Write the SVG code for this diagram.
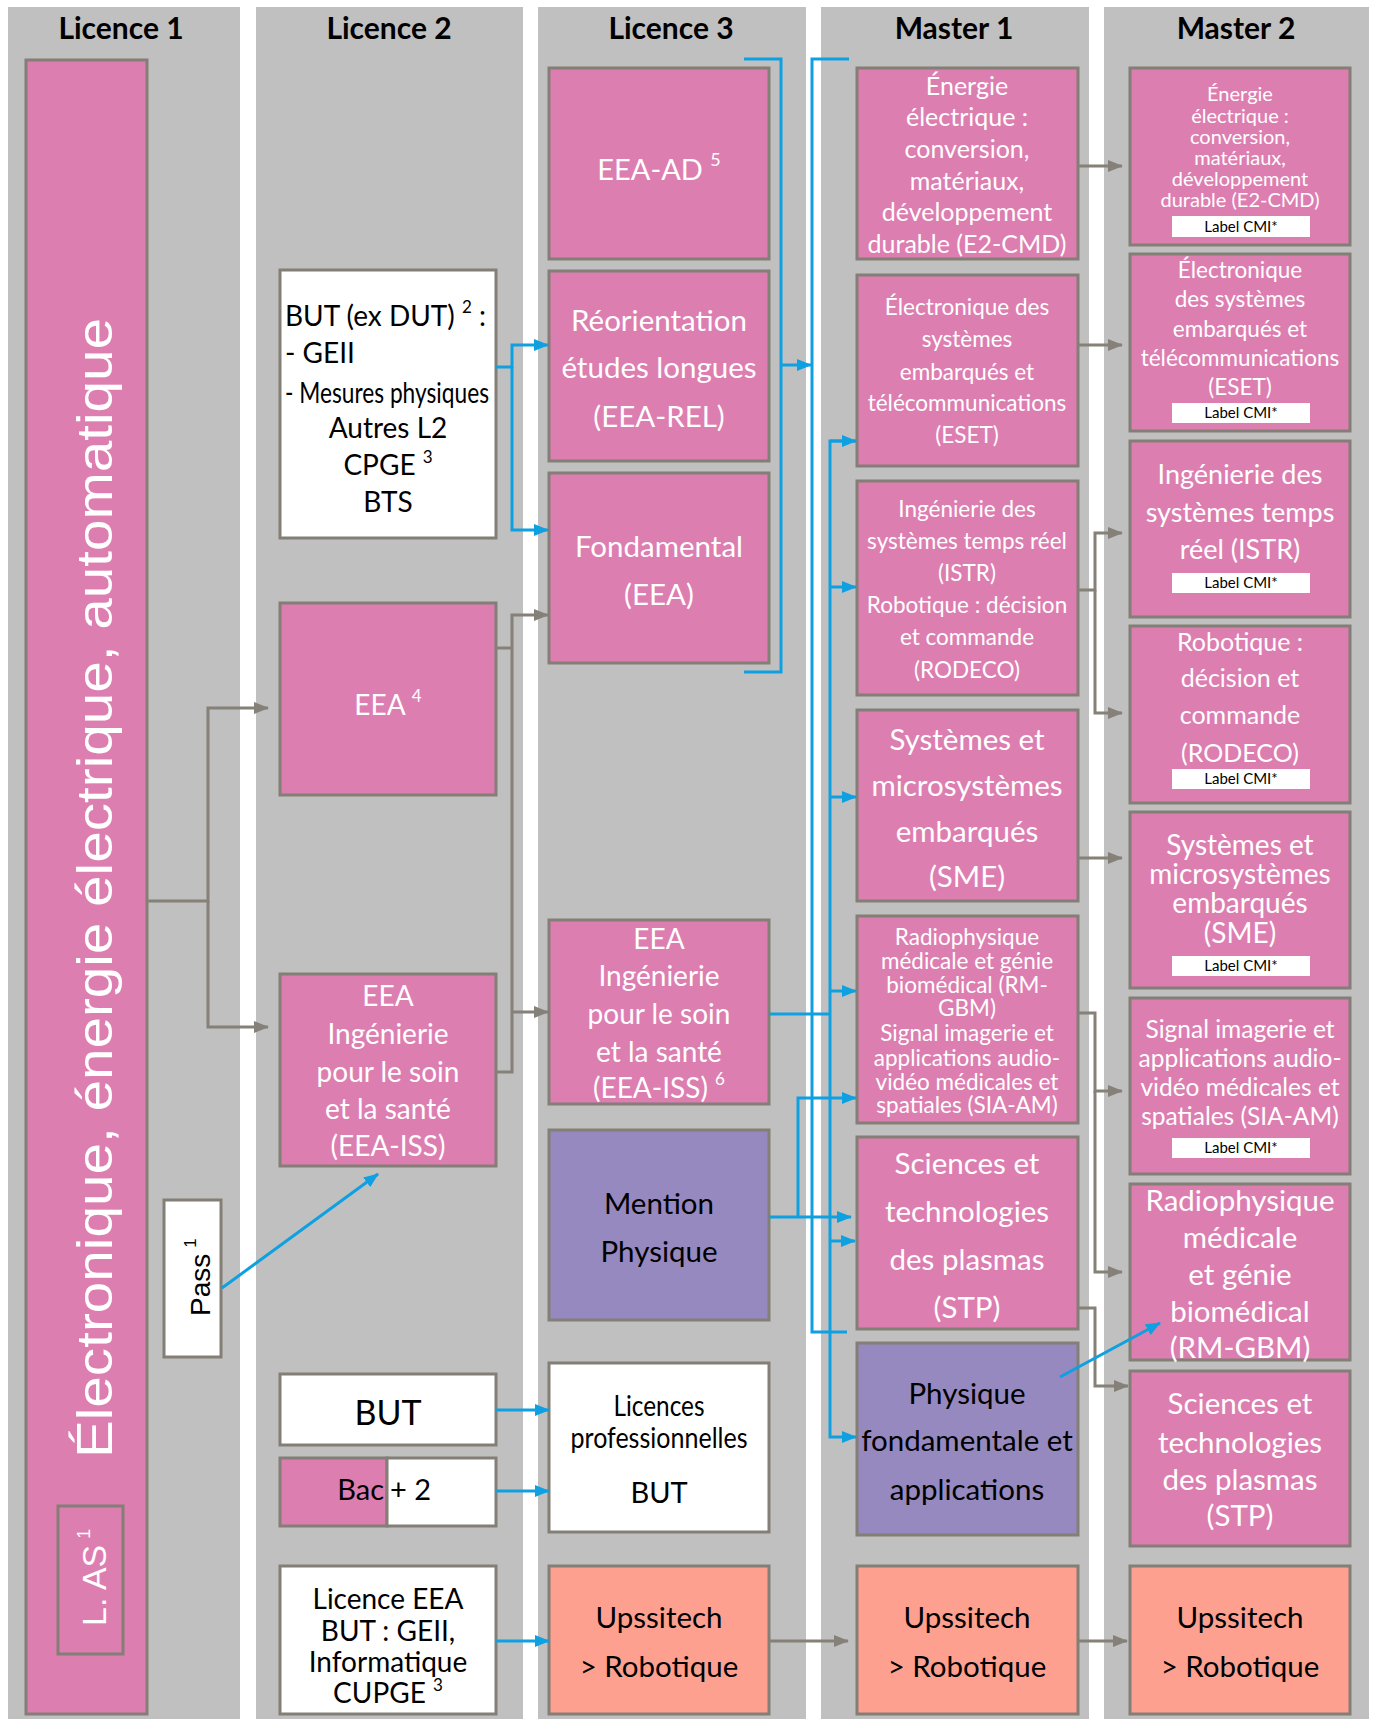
<svg xmlns="http://www.w3.org/2000/svg" width="1373" height="1719" viewBox="0 0 1373 1719">
<style>
.col{fill:#c0c0c0}
.bx{stroke:#837e76;stroke-width:3}
.pk{fill:#dd7eb1}
.wh{fill:#fff}
.pu{fill:#9589c0}
.sa{fill:#fda08f}
.t{font-family:Lato,'Open Sans',sans-serif;text-anchor:middle}
.ts{text-anchor:start}
.te{text-anchor:end}
.w{fill:#fff}
.k{fill:#000}
.hdr{font-family:Lato,'Open Sans',sans-serif;font-weight:bold;font-size:30px;text-anchor:middle;fill:#000}
.g{stroke:#858078;stroke-width:3;fill:none}
.b{stroke:#0ea0e0;stroke-width:3;fill:none}
.lbl{fill:#fff}
.lt{font-family:Lato,'Open Sans',sans-serif;font-size:15px;text-anchor:middle;fill:#000}
.geo{font-family:'Liberation Sans',Arial,sans-serif}
</style>
<defs>
<marker id="ag" markerUnits="userSpaceOnUse" markerWidth="15" markerHeight="12" refX="14" refY="6" orient="auto"><path d="M0,0 L15,6 L0,12 z" fill="#858078"/></marker>
<marker id="ab" markerUnits="userSpaceOnUse" markerWidth="15" markerHeight="12" refX="14" refY="6" orient="auto"><path d="M0,0 L15,6 L0,12 z" fill="#0ea0e0"/></marker>
</defs>
<rect width="1373" height="1719" fill="#fff"/>
<g id="columns">
<rect class="col" x="8" y="7" width="232" height="1712"/>
<rect class="col" x="256" y="7" width="267" height="1712"/>
<rect class="col" x="538" y="7" width="268" height="1712"/>
<rect class="col" x="821" y="7" width="268" height="1712"/>
<rect class="col" x="1104" y="7" width="265" height="1712"/>
<text class="hdr" x="121" y="39">Licence 1</text>
<text class="hdr" x="389" y="39">Licence 2</text>
<text class="hdr" x="671" y="39">Licence 3</text>
<text class="hdr" x="954" y="39">Master 1</text>
<text class="hdr" x="1236" y="39">Master 2</text>
</g>

<g id="l1-main">
<rect class="bx pk" x="26" y="60" width="121" height="1654"/>
<text class="geo w" font-size="50" text-anchor="middle" transform="translate(112,888) rotate(-90)" textLength="1140" lengthAdjust="spacingAndGlyphs">Électronique, énergie électrique, automatique</text>
</g>
<g id="l1-las">
<rect class="bx pk" x="58" y="1506" width="65" height="148"/>
<text class="geo w" font-size="34" transform="translate(106,1626) rotate(-90)">L. AS<tspan font-size="18" dy="-16" dx="6">1</tspan></text>
</g>
<g id="l1-pass">
<rect class="bx wh" x="164" y="1200" width="57" height="157"/>
<text class="geo k" font-size="28" transform="translate(210,1316) rotate(-90)">Pass<tspan font-size="17" dy="-14" dx="6">1</tspan></text>
</g>

<g id="l2-but-dut">
<rect class="bx wh" x="280" y="270" width="216" height="268"/>
<text class="t ts k" font-size="28" x="285" y="326">BUT (ex DUT) <tspan font-size="17" dy="-13">2</tspan><tspan dy="13"> :</tspan></text>
<text class="t ts k" font-size="28" x="285" y="363">- GEII</text>
<text class="t ts k" font-size="28" x="285" y="403" textLength="204" lengthAdjust="spacingAndGlyphs">- Mesures physiques</text>
<text class="t k" font-size="28" x="388" y="438">Autres L2</text>
<text class="t k" font-size="28" x="388" y="475">CPGE <tspan font-size="17" dy="-12">3</tspan></text>
<text class="t k" font-size="28" x="388" y="512">BTS</text>
</g>
<g id="l2-eea">
<rect class="bx pk" x="280" y="603" width="216" height="192"/>
<text class="t w" font-size="28" x="388" y="715">EEA <tspan font-size="17" dy="-13">4</tspan></text>
</g>
<g id="l2-eea-iss">
<rect class="bx pk" x="280" y="974" width="216" height="192"/>
<text class="t w" font-size="28" x="388" y="1006">EEA</text>
<text class="t w" font-size="28" x="388" y="1044">Ingénierie</text>
<text class="t w" font-size="28" x="388" y="1082">pour le soin</text>
<text class="t w" font-size="28" x="388" y="1119">et la santé</text>
<text class="t w" font-size="28" x="388" y="1156">(EEA-ISS)</text>
</g>
<g id="l2-but">
<rect class="bx wh" x="280" y="1374" width="216" height="71"/>
<text class="t k" font-size="34" x="388" y="1425">BUT</text>
</g>
<g id="l2-bac2">
<rect class="bx pk" x="280" y="1458" width="107" height="68"/>
<rect class="bx wh" x="387" y="1458" width="109" height="68"/>
<text class="t te k" font-size="29" x="384" y="1500">Bac</text>
<text class="t ts k" font-size="29" x="390" y="1500">+ 2</text>
</g>
<g id="l2-licence-eea">
<rect class="bx wh" x="280" y="1566" width="216" height="148"/>
<text class="t k" font-size="28" x="388" y="1609">Licence EEA</text>
<text class="t k" font-size="28" x="388" y="1641">BUT : GEII,</text>
<text class="t k" font-size="28" x="388" y="1672">Informatique</text>
<text class="t k" font-size="28" x="388" y="1703">CUPGE <tspan font-size="17" dy="-12">3</tspan></text>
</g>

<g id="l3-eea-ad">
<rect class="bx pk" x="549" y="68" width="220" height="191"/>
<text class="t w" font-size="29" x="659" y="180">EEA-AD <tspan font-size="18" dy="-14">5</tspan></text>
</g>
<g id="l3-reo">
<rect class="bx pk" x="549" y="271" width="220" height="190"/>
<text class="t w" font-size="29.5" x="659" y="331">Réorientation</text>
<text class="t w" font-size="29.5" x="659" y="378">études longues</text>
<text class="t w" font-size="29.5" x="659" y="427">(EEA-REL)</text>
</g>
<g id="l3-fond">
<rect class="bx pk" x="549" y="473" width="220" height="190"/>
<text class="t w" font-size="29.5" x="659" y="557">Fondamental</text>
<text class="t w" font-size="29.5" x="659" y="605">(EEA)</text>
</g>
<g id="l3-eea-iss">
<rect class="bx pk" x="549" y="920" width="220" height="184"/>
<text class="t w" font-size="28" x="659" y="949">EEA</text>
<text class="t w" font-size="28" x="659" y="986">Ingénierie</text>
<text class="t w" font-size="28" x="659" y="1024">pour le soin</text>
<text class="t w" font-size="28" x="659" y="1062">et la santé</text>
<text class="t w" font-size="28" x="659" y="1098">(EEA-ISS) <tspan font-size="17" dy="-13">6</tspan></text>
</g>
<g id="l3-mention-physique">
<rect class="bx pu" x="549" y="1130" width="220" height="190"/>
<text class="t k" font-size="29.5" x="659" y="1214">Mention</text>
<text class="t k" font-size="29.5" x="659" y="1262">Physique</text>
</g>
<g id="l3-licpro">
<rect class="bx wh" x="549" y="1363" width="220" height="169"/>
<text class="t k" font-size="28" x="659" y="1416" textLength="91" lengthAdjust="spacingAndGlyphs">Licences</text>
<text class="t k" font-size="28" x="659" y="1448" textLength="177" lengthAdjust="spacingAndGlyphs">professionnelles</text>
<text class="t k" font-size="29" x="659" y="1503">BUT</text>
</g>
<g id="l3-upssitech">
<rect class="bx sa" x="549" y="1566" width="220" height="148"/>
<text class="t k" font-size="29.5" x="659" y="1628">Upssitech</text>
<text class="t k" font-size="29.5" x="659" y="1677">&gt; Robotique</text>
</g>

<g id="m1-e2cmd">
<rect class="bx pk" x="857" y="68" width="221" height="191"/>
<text class="t w" font-size="25" x="967" y="95">Énergie</text>
<text class="t w" font-size="25" x="967" y="126">électrique :</text>
<text class="t w" font-size="25" x="967" y="158">conversion,</text>
<text class="t w" font-size="25" x="967" y="190">matériaux,</text>
<text class="t w" font-size="25" x="967" y="221">développement</text>
<text class="t w" font-size="25" x="967" y="253">durable (E2-CMD)</text>
</g>
<g id="m1-eset">
<rect class="bx pk" x="857" y="275" width="221" height="191"/>
<text class="t w" font-size="22.5" x="967" y="315">Électronique des</text>
<text class="t w" font-size="22.5" x="967" y="347">systèmes</text>
<text class="t w" font-size="22.5" x="967" y="380">embarqués et</text>
<text class="t w" font-size="22.5" x="967" y="411">télécommunications</text>
<text class="t w" font-size="22.5" x="967" y="443">(ESET)</text>
</g>
<g id="m1-istr-rodeco">
<rect class="bx pk" x="857" y="481" width="221" height="214"/>
<text class="t w" font-size="22.5" x="967" y="517">Ingénierie des</text>
<text class="t w" font-size="22.5" x="967" y="549">systèmes temps réel</text>
<text class="t w" font-size="22.5" x="967" y="581">(ISTR)</text>
<text class="t w" font-size="22.5" x="967" y="613">Robotique : décision</text>
<text class="t w" font-size="22.5" x="967" y="645">et commande</text>
<text class="t w" font-size="22.5" x="967" y="678">(RODECO)</text>
</g>
<g id="m1-sme">
<rect class="bx pk" x="857" y="710" width="221" height="191"/>
<text class="t w" font-size="29.5" x="967" y="750">Systèmes et</text>
<text class="t w" font-size="29.5" x="967" y="796">microsystèmes</text>
<text class="t w" font-size="29.5" x="967" y="842">embarqués</text>
<text class="t w" font-size="29.5" x="967" y="887">(SME)</text>
</g>
<g id="m1-rmgbm-sia">
<rect class="bx pk" x="857" y="916" width="221" height="207"/>
<text class="t w" font-size="22.5" x="967" y="945">Radiophysique</text>
<text class="t w" font-size="22.5" x="967" y="969">médicale et génie</text>
<text class="t w" font-size="22.5" x="967" y="993">biomédical (RM-</text>
<text class="t w" font-size="22.5" x="967" y="1016">GBM)</text>
<text class="t w" font-size="22.5" x="967" y="1041">Signal imagerie et</text>
<text class="t w" font-size="22.5" x="967" y="1066">applications audio-</text>
<text class="t w" font-size="22.5" x="967" y="1090">vidéo médicales et</text>
<text class="t w" font-size="22.5" x="967" y="1113">spatiales (SIA-AM)</text>
</g>
<g id="m1-stp">
<rect class="bx pk" x="857" y="1137" width="221" height="192"/>
<text class="t w" font-size="29.5" x="967" y="1174">Sciences et</text>
<text class="t w" font-size="29.5" x="967" y="1222">technologies</text>
<text class="t w" font-size="29.5" x="967" y="1270">des plasmas</text>
<text class="t w" font-size="29.5" x="967" y="1318">(STP)</text>
</g>
<g id="m1-physique-fond">
<rect class="bx pu" x="857" y="1343" width="221" height="192"/>
<text class="t k" font-size="29.5" x="967" y="1404">Physique</text>
<text class="t k" font-size="29.5" x="967" y="1451">fondamentale et</text>
<text class="t k" font-size="29.5" x="967" y="1500">applications</text>
</g>
<g id="m1-upssitech">
<rect class="bx sa" x="857" y="1566" width="221" height="148"/>
<text class="t k" font-size="29.5" x="967" y="1628">Upssitech</text>
<text class="t k" font-size="29.5" x="967" y="1677">&gt; Robotique</text>
</g>

<g id="m2-e2cmd">
<rect class="bx pk" x="1130" y="68" width="220" height="177"/>
<text class="t w" font-size="20" x="1240" y="101">Énergie</text>
<text class="t w" font-size="20" x="1240" y="123">électrique :</text>
<text class="t w" font-size="20" x="1240" y="144">conversion,</text>
<text class="t w" font-size="20" x="1240" y="165">matériaux,</text>
<text class="t w" font-size="20" x="1240" y="186">développement</text>
<text class="t w" font-size="20" x="1240" y="207">durable (E2-CMD)</text>
<rect class="lbl" x="1172" y="216" width="138" height="21"/>
<text class="lt" x="1241" y="232">Label CMI*</text>
</g>
<g id="m2-eset">
<rect class="bx pk" x="1130" y="254" width="220" height="177"/>
<text class="t w" font-size="22.5" x="1240" y="278">Électronique</text>
<text class="t w" font-size="22.5" x="1240" y="307">des systèmes</text>
<text class="t w" font-size="22.5" x="1240" y="337">embarqués et</text>
<text class="t w" font-size="22.5" x="1240" y="366">télécommunications</text>
<text class="t w" font-size="22.5" x="1240" y="395">(ESET)</text>
<rect class="lbl" x="1172" y="403" width="138" height="20"/>
<text class="lt" x="1241" y="418">Label CMI*</text>
</g>
<g id="m2-istr">
<rect class="bx pk" x="1130" y="441" width="220" height="176"/>
<text class="t w" font-size="27" x="1240" y="484">Ingénierie des</text>
<text class="t w" font-size="27" x="1240" y="522">systèmes temps</text>
<text class="t w" font-size="27" x="1240" y="559">réel (ISTR)</text>
<rect class="lbl" x="1172" y="573" width="138" height="20"/>
<text class="lt" x="1241" y="588">Label CMI*</text>
</g>
<g id="m2-rodeco">
<rect class="bx pk" x="1130" y="626" width="220" height="177"/>
<text class="t w" font-size="25" x="1240" y="651">Robotique :</text>
<text class="t w" font-size="25" x="1240" y="687">décision et</text>
<text class="t w" font-size="25" x="1240" y="724">commande</text>
<text class="t w" font-size="25" x="1240" y="762">(RODECO)</text>
<rect class="lbl" x="1172" y="769" width="138" height="20"/>
<text class="lt" x="1241" y="784">Label CMI*</text>
</g>
<g id="m2-sme">
<rect class="bx pk" x="1130" y="812" width="220" height="176"/>
<text class="t w" font-size="28" x="1240" y="855">Systèmes et</text>
<text class="t w" font-size="28" x="1240" y="884">microsystèmes</text>
<text class="t w" font-size="28" x="1240" y="913">embarqués</text>
<text class="t w" font-size="28" x="1240" y="943">(SME)</text>
<rect class="lbl" x="1172" y="956" width="138" height="20"/>
<text class="lt" x="1241" y="971">Label CMI*</text>
</g>
<g id="m2-sia">
<rect class="bx pk" x="1130" y="998" width="220" height="176"/>
<text class="t w" font-size="24.5" x="1240" y="1038">Signal imagerie et</text>
<text class="t w" font-size="24.5" x="1240" y="1067">applications audio-</text>
<text class="t w" font-size="24.5" x="1240" y="1096">vidéo médicales et</text>
<text class="t w" font-size="24.5" x="1240" y="1125">spatiales (SIA-AM)</text>
<rect class="lbl" x="1172" y="1138" width="138" height="20"/>
<text class="lt" x="1241" y="1153">Label CMI*</text>
</g>
<g id="m2-rmgbm">
<rect class="bx pk" x="1130" y="1184" width="220" height="176"/>
<text class="t w" font-size="29.5" x="1240" y="1211">Radiophysique</text>
<text class="t w" font-size="29.5" x="1240" y="1248">médicale</text>
<text class="t w" font-size="29.5" x="1240" y="1285">et génie</text>
<text class="t w" font-size="29.5" x="1240" y="1322">biomédical</text>
<text class="t w" font-size="29.5" x="1240" y="1358">(RM-GBM)</text>
</g>
<g id="m2-stp">
<rect class="bx pk" x="1130" y="1371" width="220" height="175"/>
<text class="t w" font-size="29.5" x="1240" y="1414">Sciences et</text>
<text class="t w" font-size="29.5" x="1240" y="1453">technologies</text>
<text class="t w" font-size="29.5" x="1240" y="1490">des plasmas</text>
<text class="t w" font-size="29.5" x="1240" y="1526">(STP)</text>
</g>
<g id="m2-upssitech">
<rect class="bx sa" x="1130" y="1566" width="220" height="148"/>
<text class="t k" font-size="29.5" x="1240" y="1628">Upssitech</text>
<text class="t k" font-size="29.5" x="1240" y="1677">&gt; Robotique</text>
</g>

<g id="connectors">
<path class="g" d="M147,901 H208 V708 H268" marker-end="url(#ag)"/>
<path class="g" d="M208,901 V1027 H268" marker-end="url(#ag)"/>
<path class="g" d="M496,648 H512"/>
<path class="g" d="M496,1072 H512 V615 H548" marker-end="url(#ag)"/>
<path class="g" d="M512,1012 H548" marker-end="url(#ag)"/>
<path class="g" d="M1078,166 H1122" marker-end="url(#ag)"/>
<path class="g" d="M1078,345 H1122" marker-end="url(#ag)"/>
<path class="g" d="M1078,590 H1095 V533 H1122" marker-end="url(#ag)"/>
<path class="g" d="M1095,590 V713 H1122" marker-end="url(#ag)"/>
<path class="g" d="M1078,858 H1122" marker-end="url(#ag)"/>
<path class="g" d="M1078,1013 H1095 V1091 H1122" marker-end="url(#ag)"/>
<path class="g" d="M1095,1091 V1272 H1122" marker-end="url(#ag)"/>
<path class="g" d="M1078,1308 H1095 V1386 H1128" marker-end="url(#ag)"/>
<path class="g" d="M769,1641 H848" marker-end="url(#ag)"/>
<path class="g" d="M1078,1641 H1127" marker-end="url(#ag)"/>

<path class="b" d="M496,367 H512 V345 H548" marker-end="url(#ab)"/>
<path class="b" d="M512,367 V530 H548" marker-end="url(#ab)"/>
<path class="b" d="M744,59 H781 V672 H744"/>
<path class="b" d="M781,365 H811" marker-end="url(#ab)"/>
<path class="b" d="M849,59 H812 V1332 H847"/>
<path class="b" d="M856,441 H830 V1437 H856" marker-end="url(#ab)"/>
<path class="b" d="M830,441 H856" marker-end="url(#ab)"/>
<path class="b" d="M830,587 H856" marker-end="url(#ab)"/>
<path class="b" d="M830,797 H856" marker-end="url(#ab)"/>
<path class="b" d="M830,991 H856" marker-end="url(#ab)"/>
<path class="b" d="M830,1241 H855" marker-end="url(#ab)"/>
<path class="b" d="M769,1014 H830"/>
<path class="b" d="M769,1217 H851" marker-end="url(#ab)"/>
<path class="b" d="M798,1217 V1098 H856" marker-end="url(#ab)"/>
<path class="b" d="M496,1410 H549" marker-end="url(#ab)"/>
<path class="b" d="M496,1491 H549" marker-end="url(#ab)"/>
<path class="b" d="M496,1641 H549" marker-end="url(#ab)"/>
<path class="b" d="M222,1288 L378,1174" marker-end="url(#ab)"/>
<path class="b" d="M1060,1377 L1160,1323" marker-end="url(#ab)"/>
</g>
</svg>
